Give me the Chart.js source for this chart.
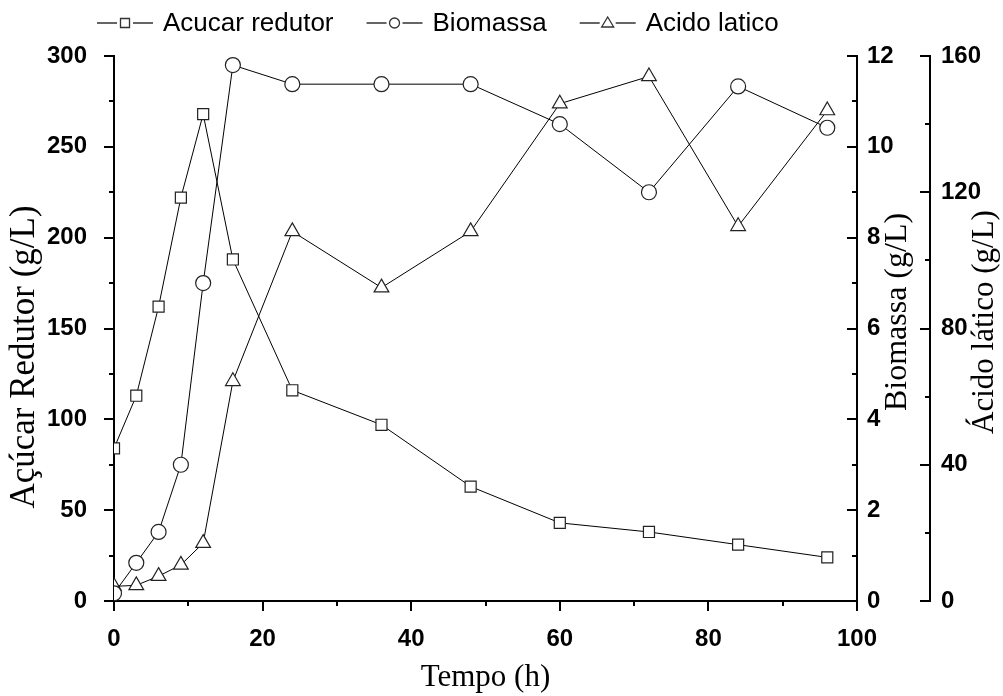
<!DOCTYPE html>
<html lang="pt">
<head>
<meta charset="utf-8">
<title>Fermentação - açúcar, biomassa e ácido lático</title>
<script src="https://cdn.jsdelivr.net/npm/chart.js@4.4.1/dist/chart.umd.min.js"></script>
<style>
  html, body { margin: 0; padding: 0; background: #fff; }
  #grafico { display: block; }
</style>
</head>
<body>
<canvas id="grafico" width="1003" height="696"></canvas>
<script>
// tempo de coleta (h)
var tempo = [0, 3, 6, 9, 12, 16, 24, 36, 48, 60, 72, 84, 96];
// açúcar redutor (g/L), eixo da esquerda
var acucar = [84, 113, 162, 222, 268, 188, 116, 97, 63, 43, 38, 31, 24];
// biomassa (g/L), primeiro eixo da direita
var biomassa = [0.17, 0.84, 1.52, 3.0, 7.0, 11.8, 11.38, 11.38, 11.38, 10.5, 9.0, 11.33, 10.42];
// ácido lático (g/L), segundo eixo da direita
var acido = [4.3, 4.6, 7.3, 10.6, 17, 64.5, 108.5, 92, 108.5, 146, 154, 110, 144];

var nomes = ['Acucar redutor', 'Biomassa', 'Acido latico'];
var estilos = ['rect', 'circle', 'triangle'];
var raios = [7.8, 7.5, 8.5];

var fonteNum = '"Liberation Sans", Arial, sans-serif';
var fonteTitulo = '"Liberation Serif", "Times New Roman", serif';

function pares(valores) { // junta tempo e valor em {x, y}
    return tempo.map(function(t, i) { return {x: t, y: valores[i]}; });
}

function serie(i, valores, eixo) {
    return {
        label: nomes[i],
        data: pares(valores),
        yAxisID: eixo,
        borderColor: '#000',
        borderWidth: 1,
        tension: 0,
        pointStyle: estilos[i],
        pointRadius: raios[i],
        pointHoverRadius: raios[i],
        pointBackgroundColor: '#fff',
        pointBorderColor: '#222',
        pointBorderWidth: 1.2
    };
}

// riscos maiores e menores de cada eixo (menor = passo do risco menor)
var riscosEixos = {
    x:  {menor: 10},
    y:  {menor: 25},
    y1: {menor: 1},
    y2: {menor: 20}
};

var riscosPlugin = {
    id: 'riscos',
    afterDraw: function(chart) {
        var ctx = chart.ctx;
        ctx.save();
        ctx.strokeStyle = '#000';
        ctx.lineWidth = 2;
        Object.keys(riscosEixos).forEach(function(id) {
            var s = chart.scales[id], passo = riscosEixos[id].menor;
            for (var k = 0; s.min + k * passo <= s.max + 1e-9; k++) {
                var v = s.min + k * passo;
                var tam = (k % 2 === 0) ? 10 : 5;
                var p = Math.round(s.getPixelForValue(v));
                ctx.beginPath();
                if (id === 'x') {
                    ctx.moveTo(p, s.top); ctx.lineTo(p, s.top + tam);
                } else {
                    var x0 = (id === 'y') ? s.right : s.left; // todos apontam para a esquerda
                    ctx.moveTo(x0, p); ctx.lineTo(x0 - tam, p);
                }
                ctx.stroke();
            }
        });
        ctx.restore();
    }
};

// títulos verticais, todos lidos de baixo para cima
var titulosY = [
    {texto: 'Açúcar Redutor (g/L)', x: 25,  y: 357, tam: 35},
    {texto: 'Biomassa (g/L)',       x: 898, y: 312, tam: 32},
    {texto: 'Ácido lático (g/L)',   x: 985, y: 322, tam: 31}
];

var titulosPlugin = {
    id: 'titulosY',
    afterDraw: function(chart) {
        var ctx = chart.ctx;
        ctx.save();
        ctx.fillStyle = '#000';
        ctx.textAlign = 'center';
        ctx.textBaseline = 'middle';
        titulosY.forEach(function(t) {
            ctx.save();
            ctx.font = t.tam + 'px ' + fonteTitulo;
            ctx.translate(t.x, t.y);
            ctx.rotate(-Math.PI / 2);
            ctx.fillText(t.texto, 0, 0);
            ctx.restore();
        });
        ctx.restore();
    }
};

function marcador(ctx, estilo, x, y) { // marcador pequeno da legenda
    ctx.beginPath();
    if (estilo === 'rect') {
        ctx.rect(x - 4.5, y - 4.5, 9, 9);
    } else if (estilo === 'circle') {
        ctx.arc(x, y, 5, 0, Math.PI * 2);
    } else {
        ctx.moveTo(x, y - 6); ctx.lineTo(x + 6, y + 4); ctx.lineTo(x - 6, y + 4); ctx.closePath();
    }
    ctx.fillStyle = '#fff';
    ctx.fill();
    ctx.stroke();
}

var legendaPlugin = {
    id: 'legendaTopo',
    afterDraw: function(chart) {
        var ctx = chart.ctx, x = 97, y = 23;
        ctx.save();
        ctx.font = '26px ' + fonteNum;
        ctx.textBaseline = 'middle';
        chart.data.datasets.forEach(function(ds, i) {
            ctx.strokeStyle = '#333';
            ctx.lineWidth = 1.3;
            ctx.beginPath();
            ctx.moveTo(x, y); ctx.lineTo(x + 20, y);
            ctx.moveTo(x + 36, y); ctx.lineTo(x + 56, y);
            ctx.stroke();
            marcador(ctx, estilos[i], x + 28, y);
            ctx.fillStyle = '#000';
            ctx.fillText(ds.label, x + 66, y + 1);
            x += 66 + ctx.measureText(ds.label).width + 33;
        });
        ctx.restore();
    }
};

function largura(px) { return function(s) { s.width = px; }; }

var numeros = {size: 24, weight: 'bold', family: fonteNum};

new Chart(document.getElementById('grafico').getContext('2d'), {
    type: 'line',
    data: {
        datasets: [
            serie(0, acucar, 'y'),
            serie(1, biomassa, 'y1'),
            serie(2, acido, 'y2')
        ]
    },
    options: {
        responsive: false,
        animation: false,
        layout: {padding: {top: 56, left: 0, right: 0, bottom: 0}},
        plugins: {legend: {display: false}, tooltip: {enabled: false}},
        scales: {
            x: {
                type: 'linear', min: 0, max: 100,
                grid: {display: false},
                border: {display: true, color: '#000', width: 2},
                ticks: {stepSize: 20, color: '#000', font: numeros, padding: 16, maxRotation: 0},
                title: {display: true, text: 'Tempo (h)', color: '#000',
                        font: {size: 31, family: fonteTitulo}, padding: {top: 0, bottom: 0}},
                afterFit: function(s) { s.height = 95; }
            },
            y: {
                position: 'left', min: 0, max: 300,
                grid: {display: false},
                border: {display: true, color: '#000', width: 2},
                ticks: {stepSize: 50, color: '#000', font: numeros, padding: 19},
                afterFit: largura(114)
            },
            y1: {
                position: 'right', min: 0, max: 12, weight: 1,
                grid: {display: false},
                border: {display: true, color: '#000', width: 2},
                ticks: {stepSize: 2, color: '#000', font: numeros, padding: 2},
                afterFit: largura(73)
            },
            y2: {
                position: 'right', min: 0, max: 160, weight: 2,
                grid: {display: false},
                border: {display: true, color: '#000', width: 2},
                ticks: {stepSize: 40, color: '#000', font: numeros, padding: 3},
                afterFit: largura(73)
            }
        }
    },
    plugins: [riscosPlugin, titulosPlugin, legendaPlugin]
});
</script>
</body>
</html>
